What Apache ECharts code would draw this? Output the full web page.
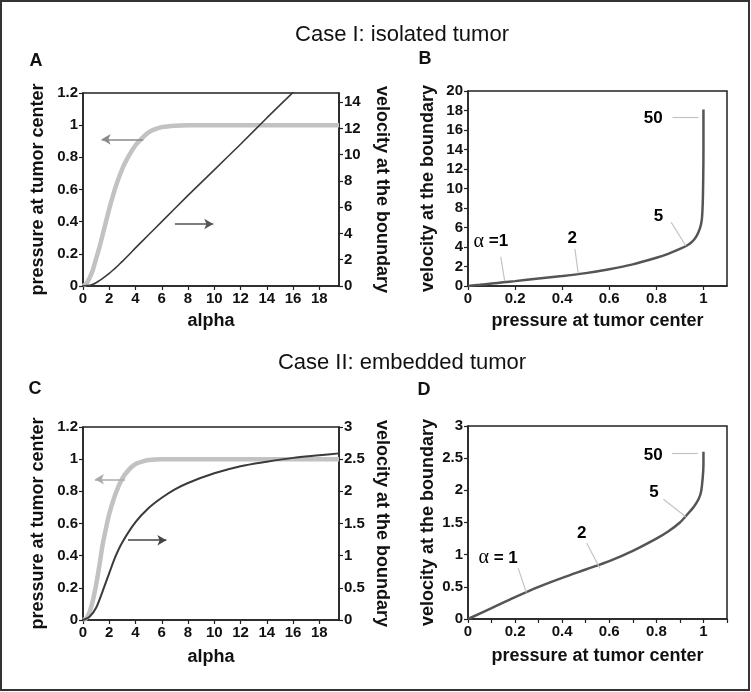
<!DOCTYPE html>
<html><head><meta charset="utf-8">
<script src="https://cdn.jsdelivr.net/npm/echarts@6/dist/echarts.min.js"></script>
<style>html,body{margin:0;padding:0;background:#fff}#c{width:751px;height:692px}</style>
</head><body><div id="c"></div><script>
// ---------- Panel A (isolated tumor) ----------
const alphaPressA = [0,0.25,0.5,0.75,1,1.25,1.5,1.75,2,2.5,3,3.5,4,4.5,5,5.5,6,7,8,10,12,14,16,18,19.5];
const pressureA   = [0,0.015,0.05,0.10,0.17,0.24,0.32,0.40,0.48,0.62,0.73,0.81,0.875,0.92,0.955,0.975,0.988,0.997,1,1,1,1,1,1,1];
const alphaVelA   = [0,0.5,0.75,1,1.25,1.5,1.75,2,2.25,2.5,2.75,3,3.5,4,5,6,8,10,12,14,16,18,19.5];
const velocityA   = [0,0.05,0.13,0.25,0.41,0.58,0.77,0.97,1.18,1.4,1.64,1.88,2.38,2.9,3.9,4.9,6.9,8.85,10.8,12.8,14.75,16.7,18.2];
const arrowLeftA  = [[4.59,0.912],[1.42,0.912]];   // points to pressure axis
const arrowRightA = [[7.0,4.72],[9.92,4.72]];      // points to velocity axis
// ---------- Panel B ----------
const pressureB = [0,0.05,0.1,0.15,0.2,0.3,0.4,0.5,0.6,0.7,0.8,0.85,0.9,0.93,0.95,0.97,0.985,0.993,0.997,0.999,1,1];
const velocityB = [0,0.12,0.25,0.38,0.5,0.76,1.02,1.32,1.72,2.22,2.9,3.3,3.8,4.15,4.5,5.1,5.9,6.8,8.5,11,14,18.1];
const labelTextB = ['α =1','2','5','50'];
const labelPosB  = [[0.097,4.54],[0.443,4.89],[0.809,7.1],[0.787,17.2]];
const leadersB   = [[[0.139,3.0],[0.156,0.51]],[[0.454,3.8],[0.468,1.3]],[[0.863,6.53],[0.925,4.13]],[[0.868,17.3],[0.979,17.3]]];
// ---------- Panel C (embedded tumor) ----------
const alphaPressC = [0,0.25,0.5,0.75,1,1.25,1.5,1.75,2,2.5,3,3.5,4,4.5,5,6,8,10,12,14,16,18,19.5];
const pressureC   = [0,0.01,0.05,0.12,0.22,0.34,0.47,0.57,0.66,0.79,0.88,0.935,0.97,0.985,0.995,1,1,1,1,1,1,1,1];
const alphaVelC   = [0,0.5,1,1.5,2,2.5,3,4,5,6,7,8,10,12,14,16,18,19.5];
const velocityC   = [0,0.05,0.19,0.45,0.73,1.0,1.21,1.52,1.74,1.90,2.03,2.13,2.28,2.39,2.46,2.52,2.56,2.59];
const arrowLeftC  = [[3.2,0.875],[0.91,0.875]];
const arrowRightC = [[3.43,1.24],[6.35,1.24]];
// ---------- Panel D ----------
const pressureD = [0,0.1,0.2,0.3,0.4,0.5,0.6,0.7,0.8,0.85,0.9,0.93,0.96,0.98,0.99,0.997,1,1];
const velocityD = [0,0.17,0.34,0.5,0.64,0.77,0.9,1.06,1.25,1.36,1.5,1.62,1.75,1.87,1.98,2.2,2.4,2.6];
const labelTextD = ['α = 1','2','5','50'];
const labelPosD  = [[0.128,0.947],[0.483,1.335],[0.79,1.97],[0.787,2.55]];
const leadersD   = [[[0.213,0.79],[0.248,0.41]],[[0.504,1.18],[0.56,0.79]],[[0.83,1.86],[0.925,1.59]],[[0.866,2.57],[0.976,2.57]]];
// ---------- texts ----------
const titles = ['Case I: isolated tumor','Case II: embedded tumor'];
const panelLetters = ['A','B','C','D'];
const xNameAlpha = 'alpha';
const xNamePressure = 'pressure at tumor center';
const yNamePressure = 'pressure at tumor center';
const yNameVelocity = 'velocity at the boundary';

const zip = (a,b) => a.map((v,i)=>[v,b[i]]);
const FONT = 'Liberation Sans';
const lineCol = '#222';
const axisLine = {show:true, onZero:false, lineStyle:{color:lineCol,width:1.5}};
const axisTick = {show:true, length:4, lineStyle:{color:lineCol,width:1.2}};
const lbl = (extra) => Object.assign({fontFamily:FONT,fontWeight:'bold',fontSize:15,color:'#111',margin:5}, extra||{});
const nameStyle = {fontFamily:FONT,fontWeight:'bold',fontSize:18,color:'#111'};

function xAx(grid,min,max,interval,name,gap,minor){
  return {type:'value',gridIndex:grid,min,max,interval,name,nameLocation:'middle',nameGap:gap,
    nameTextStyle:nameStyle,axisLine,axisTick,splitLine:{show:false},
    minorTick: minor?{show:true,splitNumber:2,length:4,lineStyle:{color:lineCol,width:1.2}}:{show:false},
    axisLabel:lbl({showMaxLabel:false})};
}
function yAx(grid,pos,min,max,interval,name,gap,showMax,rot){
  const o = {type:'value',gridIndex:grid,position:pos,min,max,interval,name,nameLocation:'middle',nameGap:gap,
    nameTextStyle:nameStyle,axisLine,axisTick,splitLine:{show:false},axisLabel:lbl({showMaxLabel:showMax})};
  if(rot!==undefined) o.nameRotate = rot;
  return o;
}
function arrow(pair,color){
  return {silent:true,symbol:['none','arrow'],symbolSize:[8,9],label:{show:false},
    lineStyle:{color,width:1.5,type:'solid'},emphasis:{disabled:true},
    data:[[{coord:pair[0]},{coord:pair[1]}]]};
}
function labelSeries(xi,yi,texts,pos,leaders){
  return {type:'scatter',xAxisIndex:xi,yAxisIndex:yi,symbolSize:1,itemStyle:{color:'rgba(0,0,0,0)',opacity:1},silent:true,z:5,
    data: texts.map((t,i)=>({name:t,value:pos[i]})),
    label:{show:true,position:'inside',color:'#000',opacity:1,textBorderWidth:0,
      formatter:(p)=>{const t=p.name; return t.startsWith('α') ? '{g|α}{b|'+t.slice(1)+'}' : '{b|'+t+'}';},
      rich:{g:{fontFamily:'Liberation Serif',fontSize:20,color:'#000',textBorderWidth:0},b:{fontFamily:FONT,fontWeight:'bold',fontSize:17,color:'#000',textBorderWidth:0}}},
    markLine:{silent:true,symbol:['none','none'],label:{show:false},lineStyle:{color:'#c4c4c4',width:1.2,type:'solid'},
      data: leaders.map(l=>[{coord:l[0]},{coord:l[1]}])}
  };
}

const chart = echarts.init(document.getElementById('c'),null,{renderer:'canvas'});
const gridBase = {show:true,borderColor:lineCol,borderWidth:1.5,backgroundColor:'transparent'};
const option = {
  animation:false,
  backgroundColor:'#fff',
  grid:[
    Object.assign({left:83,top:93,width:256,height:193},gridBase),
    Object.assign({left:468,top:91,width:259,height:195},gridBase),
    Object.assign({left:83,top:427,width:256,height:193},gridBase),
    Object.assign({left:468,top:426,width:259,height:193},gridBase)
  ],
  xAxis:[
    xAx(0,0,19.5,2,xNameAlpha,26,false),
    xAx(1,0,1.1,0.2,xNamePressure,26,false),
    xAx(2,0,19.5,2,xNameAlpha,28,false),
    xAx(3,0,1.1,0.2,xNamePressure,28,true)
  ],
  yAxis:[
    yAx(0,'left',0,1.2,0.2,yNamePressure,36,true),
    yAx(0,'right',0,14.7,2,yNameVelocity,34,false,-90),
    yAx(1,'left',0,20,2,yNameVelocity,31,true),
    yAx(2,'left',0,1.2,0.2,yNamePressure,36,true),
    yAx(2,'right',0,3,0.5,yNameVelocity,34,true,-90),
    yAx(3,'left',0,3,0.5,yNameVelocity,31,true)
  ],
  graphic:[
    {type:'rect',shape:{x:1,y:1,width:748,height:689},style:{fill:'none',stroke:'#333',lineWidth:2},silent:true},
    {type:'text',x:402,y:35,style:{text:titles[0],font:'normal 22px "Liberation Sans"',fill:'#111',align:'center',verticalAlign:'middle'}},
    {type:'text',x:402,y:363,style:{text:titles[1],font:'normal 22px "Liberation Sans"',fill:'#111',align:'center',verticalAlign:'middle'}},
    {type:'text',x:36,y:61,style:{text:panelLetters[0],font:'bold 18px "Liberation Sans"',fill:'#111',align:'center',verticalAlign:'middle'}},
    {type:'text',x:425,y:59,style:{text:panelLetters[1],font:'bold 18px "Liberation Sans"',fill:'#111',align:'center',verticalAlign:'middle'}},
    {type:'text',x:35,y:389,style:{text:panelLetters[2],font:'bold 18px "Liberation Sans"',fill:'#111',align:'center',verticalAlign:'middle'}},
    {type:'text',x:424,y:390,style:{text:panelLetters[3],font:'bold 18px "Liberation Sans"',fill:'#111',align:'center',verticalAlign:'middle'}}
  ],
  series:[
    // A
    {type:'line',xAxisIndex:0,yAxisIndex:0,data:zip(alphaPressA,pressureA),showSymbol:false,smooth:0.3,
      lineStyle:{color:'#c2c2c2',width:4.5},z:2,markLine:arrow(arrowLeftA,'#8a8a8a')},
    {type:'line',xAxisIndex:0,yAxisIndex:1,data:zip(alphaVelA,velocityA),showSymbol:false,smooth:0.3,clip:true,
      lineStyle:{color:'#3a3a3a',width:1.6},z:3,markLine:arrow(arrowRightA,'#555')},
    // B
    {type:'line',xAxisIndex:1,yAxisIndex:2,data:zip(pressureB,velocityB),showSymbol:false,smooth:0.3,
      lineStyle:{color:'#555',width:2.5},z:3},
    labelSeries(1,2,labelTextB,labelPosB,leadersB),
    // C
    {type:'line',xAxisIndex:2,yAxisIndex:3,data:zip(alphaPressC,pressureC),showSymbol:false,smooth:0.3,
      lineStyle:{color:'#c2c2c2',width:4.5},z:2,markLine:arrow(arrowLeftC,'#aaaaaa')},
    {type:'line',xAxisIndex:2,yAxisIndex:4,data:zip(alphaVelC,velocityC),showSymbol:false,smooth:0.3,
      lineStyle:{color:'#3a3a3a',width:2},z:3,markLine:arrow(arrowRightC,'#444')},
    // D
    {type:'line',xAxisIndex:3,yAxisIndex:5,data:zip(pressureD,velocityD),showSymbol:false,smooth:0.3,
      lineStyle:{color:'#555',width:2.5},z:3},
    labelSeries(3,5,labelTextD,labelPosD,leadersD)
  ]
};
chart.setOption(option);
</script></body></html>
